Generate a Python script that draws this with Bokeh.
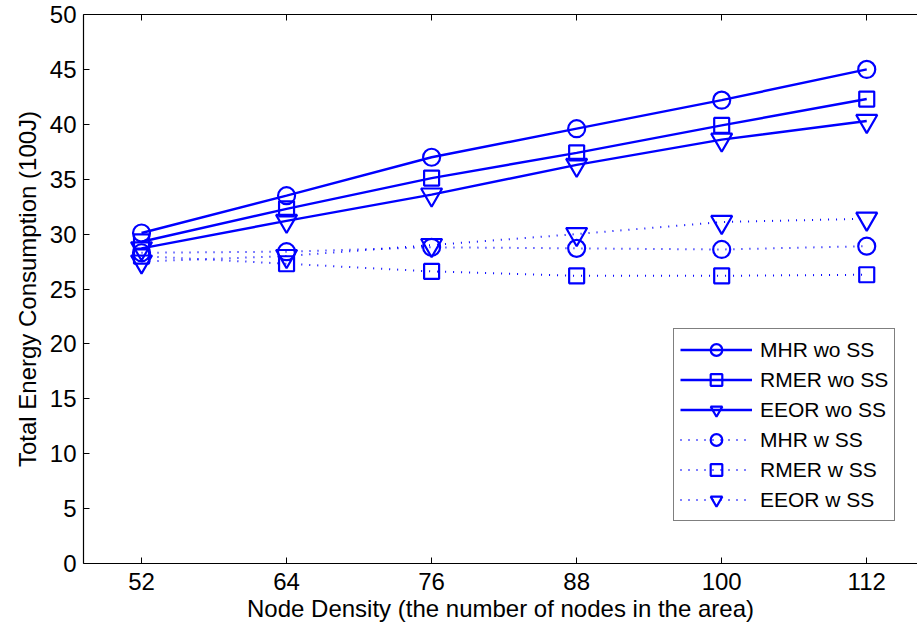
from bokeh.plotting import figure
from bokeh.models import Range1d, FixedTicker, LinearAxis, Legend
from bokeh.embed import file_html
from bokeh.resources import INLINE

node_density = [52, 64, 76, 88, 100, 112]
mhr_wo_ss = [30.1, 33.5, 37.0, 39.6, 42.2, 45.0]
rmer_wo_ss = [29.3, 32.3, 35.1, 37.4, 39.9, 42.3]
eeor_wo_ss = [28.7, 31.2, 33.6, 36.3, 38.6, 40.3]
mhr_w_ss = [28.3, 28.4, 28.8, 28.7, 28.6, 28.9]
rmer_w_ss = [28.0, 27.3, 26.6, 26.2, 26.2, 26.3]
eeor_w_ss = [27.5, 28.0, 29.0, 30.0, 31.1, 31.4]
x_ticks = [52, 64, 76, 88, 100, 112]
y_ticks = [0, 5, 10, 15, 20, 25, 30, 35, 40, 45, 50]

FONT = "Liberation Sans"
BLUE = "#0000ff"

p = figure(width=917, height=631, output_backend="svg", toolbar_location=None,
           x_range=Range1d(47.2, 116.2), y_range=Range1d(0, 50),
           min_border_left=83, min_border_right=0, min_border_top=14, min_border_bottom=68)
p.outline_line_color = None
p.grid.visible = False
p.background_fill_color = "white"
p.border_fill_color = "white"

for ax in [p.xaxis[0], p.yaxis[0]]:
    ax.major_tick_in = 6
    ax.major_tick_out = 0
    ax.minor_tick_line_color = None
    ax.axis_line_color = "black"
    ax.axis_line_width = 1.2
    ax.major_tick_line_color = "black"
    ax.major_label_text_font = FONT
    ax.major_label_text_font_size = "24px"
    ax.major_label_text_color = "black"
    ax.axis_label_text_font = FONT
    ax.axis_label_text_font_size = "24px"
    ax.axis_label_text_font_style = "normal"
    ax.axis_label_text_color = "black"

p.xaxis.ticker = FixedTicker(ticks=x_ticks)
p.yaxis.ticker = FixedTicker(ticks=y_ticks)
p.xaxis.axis_label = "Node Density (the number of nodes in the area)"
p.yaxis.axis_label = "Total Energy Consumption (100J)"
p.xaxis.major_label_standoff = 9
p.yaxis.major_label_standoff = 7
p.xaxis.axis_label_standoff = 2
p.yaxis.axis_label_standoff = 6

top = LinearAxis(ticker=FixedTicker(ticks=x_ticks), major_tick_in=6, major_tick_out=0,
                 major_label_overrides={t: "" for t in x_ticks}, major_label_standoff=0,
                 minor_tick_line_color=None, axis_line_width=1.2)
p.add_layout(top, "above")

series = [
    ("MHR wo SS", mhr_wo_ss, "circle", 17, "solid"),
    ("RMER wo SS", rmer_wo_ss, "square", 15, "solid"),
    ("EEOR wo SS", eeor_wo_ss, "inverted_triangle", 21, "solid"),
    ("MHR w SS", mhr_w_ss, "circle", 17, "1 7"),
    ("RMER w SS", rmer_w_ss, "square", 15, "1 7"),
    ("EEOR w SS", eeor_w_ss, "inverted_triangle", 21, "1 7"),
]

items = []
for name, ys, marker, size, dash in series:
    if dash == "solid":
        l = p.line(node_density, ys, line_color=BLUE, line_width=2.4)
    else:
        l = p.line(node_density, ys, line_color=BLUE, line_width=2.0, line_dash=dash)
    s = p.scatter(node_density, ys, marker=marker, size=size, fill_color=None,
                  line_color=BLUE, line_width=2.2)
    items.append((name, [l, s]))

legend = Legend(items=items, location=(590, 42), orientation="vertical")
legend.label_text_font = FONT
legend.label_text_font_size = "21px"
legend.label_text_color = "black"
legend.glyph_width = 72
legend.glyph_height = 29
legend.label_height = 29
legend.spacing = 1
legend.padding = 6
legend.margin = 0
legend.label_standoff = 8
legend.border_line_color = "black"
legend.border_line_width = 1.2
legend.background_fill_color = "white"
legend.background_fill_alpha = 1.0
p.add_layout(legend, "center")

open("out.html", "w").write(file_html(p, INLINE))
